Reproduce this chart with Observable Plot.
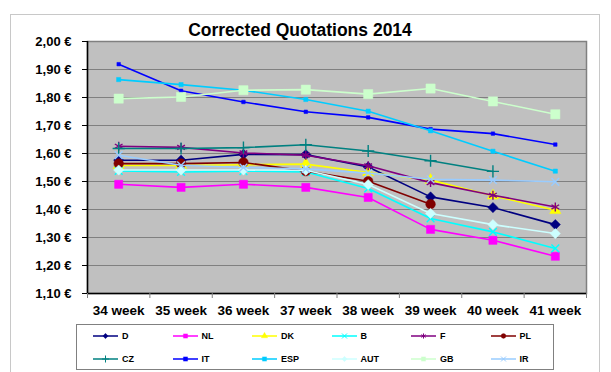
<!DOCTYPE html>
<html>
<head>
<meta charset="utf-8">
<script src="https://cdn.jsdelivr.net/npm/d3@7"></script>
<script src="https://cdn.jsdelivr.net/npm/@observablehq/plot@0.6"></script>
<style>
  html, body { margin: 0; padding: 0; background: #fff; }
  #wrap { position: relative; width: 611px; height: 372px; overflow: hidden; font-family: "Liberation Sans", Arial, sans-serif; }
  #frame { position: absolute; left: 10px; top: 14px; width: 590px; height: 362px; border: 1px solid #c8c8c8; box-sizing: border-box; }
  #title { position: absolute; left: 0; top: 22px; width: 600px; text-align: center; font-weight: bold; font-size: 17.5px; line-height: 17.5px; color: #000; }
  #chart { position: absolute; left: 0; top: 0; }
  #legend { position: absolute; left: 76px; top: 324px; width: 478px; height: 46px; border: 1px solid #808080; box-sizing: border-box; background: #fff; }
  .item { position: absolute; height: 12px; display: flex; align-items: center; font-weight: bold; font-size: 9px; color: #000; }
  .item svg { margin-right: 3px; }
</style>
</head>
<body>
<div id="wrap">
  <div id="frame"></div>
  <div id="chart"></div>
  <div id="title">Corrected Quotations 2014</div>
  <div id="legend"></div>
</div>
<script>
// ---- data ----
const weeks = ["34 week", "35 week", "36 week", "37 week", "38 week", "39 week", "40 week", "41 week"];
const yTicks = [1.10, 1.20, 1.30, 1.40, 1.50, 1.60, 1.70, 1.80, 1.90, 2.00];

const seriesNames = ["D", "NL", "DK", "B", "F", "PL", "CZ", "IT", "ESP", "AUT", "GB", "IR"];
const D   = [1.576, 1.576, 1.597, 1.596, 1.552, 1.445, 1.407, 1.346];
const NL  = [1.490, 1.479, 1.490, 1.479, 1.443, 1.329, 1.290, 1.233];
const DK  = [1.557, 1.557, 1.560, 1.562, 1.532, 1.505, 1.449, 1.397];
const B   = [1.538, 1.534, 1.537, 1.534, 1.475, 1.368, 1.320, 1.261];
const F   = [1.626, 1.622, 1.602, 1.594, 1.556, 1.496, 1.451, 1.409];
const PL  = [1.564, 1.564, 1.568, 1.537, 1.501, 1.419, null, null];
const CZ  = [1.618, 1.618, 1.621, 1.631, 1.609, 1.574, 1.536, null];
const IT  = [1.919, 1.824, 1.784, 1.749, 1.729, 1.687, 1.671, 1.632];
const ESP = [1.864, 1.846, 1.826, 1.793, 1.751, 1.681, 1.608, 1.537];
const AUT = [1.541, 1.541, 1.541, 1.540, 1.489, 1.386, 1.346, 1.314];
const GB  = [1.796, 1.802, 1.826, 1.828, 1.812, 1.832, 1.786, 1.740];
const IR  = [1.594, 1.558, 1.550, 1.545, 1.530, 1.508, 1.505, 1.499];
const seriesValues = [D, NL, DK, B, F, PL, CZ, IT, ESP, AUT, GB, IR];

// ---- styles ----
const colors  = ["#000080", "#FF00FF", "#FFFF00", "#00FFFF", "#800080", "#800000", "#008080", "#0000FF", "#00CCFF", "#CCFFFF", "#CCFFCC", "#99CCFF"];
const symbols = ["diamond2", "square", "triangle", "times", "asterisk", "circle", "plus", "square", "square", "diamond2", "square", "times"];
const radii   = [4.6, 4.6, 4.2, 3.6, 4.2, 4.8, 4.0, 2.0, 2.4, 4.6, 5.2, 3.6];
const filled  = [true, true, true, false, false, true, false, true, true, true, true, false];
const d3sym   = {diamond2: d3.symbolDiamond2, square: d3.symbolSquare, triangle: d3.symbolTriangle, times: d3.symbolTimes, asterisk: d3.symbolAsterisk, circle: d3.symbolCircle, plus: d3.symbolPlus};

const rows = seriesNames.map((name, s) =>
  seriesValues[s].map((v, i) => ({series: name, i, value: v})).filter(d => d.value != null)
);

const xDomain = [-0.5, weeks.length - 0.5];
const yDomain = [yTicks[0], yTicks[yTicks.length - 1]];
const boundaries = d3.range(weeks.length + 1).map(k => k - 0.5);

const marks = [
  Plot.frame({fill: "#c0c0c0", stroke: "#808080", strokeWidth: 1.5}),
  Plot.gridY(yTicks, {stroke: "#808080", strokeOpacity: 1, strokeWidth: 1}),
  Plot.ruleX([xDomain[0]], {stroke: "#000", strokeWidth: 1.5}),
  Plot.ruleY([yDomain[0]], {stroke: "#000", strokeWidth: 1.5}),
  Plot.axisY(yTicks, {
    tickSize: 5, tickPadding: 11, stroke: "#000",
    tickFormat: d => d.toFixed(2).replace(".", ",") + " €",
    fontSize: 13, fontWeight: "bold", fill: "#000"
  }),
  Plot.axisX(boundaries, {tickSize: 5, tickFormat: () => "", stroke: "#808080"}),
  Plot.axisX(d3.range(weeks.length), {
    tickSize: 0, tickPadding: 12, tickFormat: i => weeks[i],
    fontSize: 13.5, fontWeight: "bold", fill: "#000"
  })
];

seriesNames.forEach((name, s) => {
  marks.push(Plot.line(rows[s], {x: "i", y: "value", stroke: colors[s], strokeWidth: 1.6}));
  marks.push(Plot.dot(rows[s], {
    x: "i", y: "value", symbol: () => symbols[s], r: radii[s],
    fill: filled[s] ? colors[s] : "none",
    stroke: colors[s], strokeWidth: filled[s] ? 0.5 : 1.4
  }));
});

const plot = Plot.plot({
  width: 611,
  height: 320,
  marginTop: 41,
  marginBottom: 27,
  marginLeft: 87,
  marginRight: 25,
  style: {background: "transparent", fontFamily: "Liberation Sans, Arial, sans-serif", overflow: "visible"},
  x: {type: "linear", domain: xDomain, label: null, axis: null},
  y: {type: "linear", domain: yDomain, label: null, axis: null},
  marks
});
document.getElementById("chart").appendChild(plot);

// ---- legend ----
const legend = d3.select("#legend");
seriesNames.forEach((name, s) => {
  const col = s % 6, row = Math.floor(s / 6);
  const item = legend.append("div").attr("class", "item")
    .style("left", (16 + col * 79.5) + "px")
    .style("top", (row === 0 ? 5 : 28) + "px");
  const svg = item.append("svg").attr("width", 26).attr("height", 10);
  svg.append("line").attr("x1", 0).attr("x2", 25).attr("y1", 5).attr("y2", 5)
    .attr("stroke", colors[s]).attr("stroke-width", 1.5);
  svg.append("path").attr("transform", "translate(12.5,5)")
    .attr("d", d3.symbol(d3sym[symbols[s]], 18)())
    .attr("fill", filled[s] ? colors[s] : "none")
    .attr("stroke", colors[s]).attr("stroke-width", filled[s] ? 0.3 : 1);
  item.append("span").text(name);
});
</script>
</body>
</html>
